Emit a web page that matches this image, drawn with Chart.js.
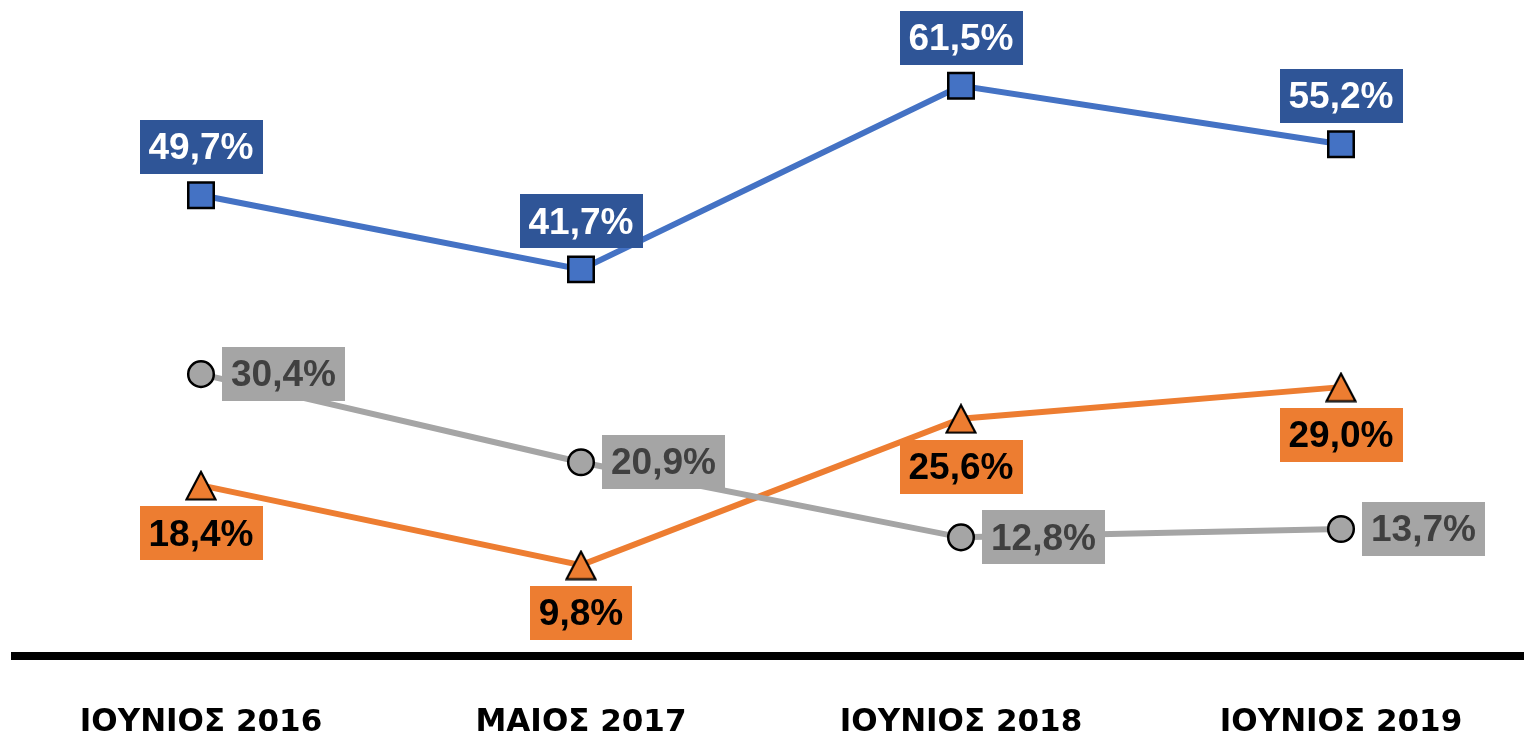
<!DOCTYPE html>
<html>
<head>
<meta charset="utf-8">
<script src="https://cdn.jsdelivr.net/npm/chart.js@4/dist/chart.umd.min.js"></script>
<style>
  html, body { margin: 0; padding: 0; background: #fff; }
  #wrap { width: 1524px; height: 743px; position: relative; }
</style>
</head>
<body>
<div id="wrap"><canvas id="trend"></canvas></div>
<script>
  const categories = ['ΙΟΥΝΙΟΣ 2016', 'ΜΑΙΟΣ 2017', 'ΙΟΥΝΙΟΣ 2018', 'ΙΟΥΝΙΟΣ 2019']
  const blueValues = [49.7, 41.7, 61.5, 55.2]
  const grayValues = [30.4, 20.9, 12.8, 13.7]
  const orangeValues = [18.4, 9.8, 25.6, 29.0]

  const LABEL_FONT = 'bold 37px "Liberation Sans", Arial, sans-serif'

  // orange triangle marker, a bit taller than the built-in one
  function triangleMarker () {
    const c = document.createElement('canvas')
    c.width = 32
    c.height = 31
    const g = c.getContext('2d')
    g.beginPath()
    g.moveTo(16, 2)
    g.lineTo(30.5, 29.5)
    g.lineTo(1.5, 29.5)
    g.closePath()
    g.fillStyle = '#ED7D31'
    g.fill()
    g.lineWidth = 2.2
    g.strokeStyle = '#000'
    g.lineJoin = 'miter'
    g.stroke()
    return c
  }

  const fmt = v => v.toFixed(1).replace('.', ',') + '%'

  // thick black baseline across the whole width
  const baseline = {
    id: 'baseline',
    beforeDatasetsDraw (chart) {
      const ctx = chart.ctx
      const y0 = chart.scales.y.getPixelForValue(0)
      ctx.save()
      ctx.fillStyle = '#000'
      ctx.fillRect(11, y0 - 4, chart.width - 11, 8)
      ctx.restore()
    }
  }

  // boxed value labels next to every point
  const boxLabels = {
    id: 'boxLabels',
    afterDatasetsDraw (chart) {
      const ctx = chart.ctx
      ctx.save()
      ctx.font = LABEL_FONT
      ctx.textBaseline = 'middle'
      ctx.textAlign = 'center'
      chart.data.datasets.forEach((ds, i) => {
        const meta = chart.getDatasetMeta(i)
        meta.data.forEach((pt, j) => {
          const text = fmt(ds.data[j])
          const w = ctx.measureText(text).width + 18
          const h = 54
          let cx = pt.x
          let cy = pt.y
          if (ds.labelPos === 'top') cy = pt.y - 48
          else if (ds.labelPos === 'bottom') cy = pt.y + 48
          else if (ds.labelPos === 'right') cx = pt.x + 21 + w / 2
          ctx.fillStyle = ds.labelBg
          ctx.fillRect(Math.round(cx - w / 2), Math.round(cy - h / 2), Math.round(w), h)
          ctx.fillStyle = ds.labelColor
          ctx.fillText(text, cx, cy + 2)
        })
      })
      ctx.restore()
    }
  }

  new Chart(document.getElementById('trend'), {
    type: 'line',
    data: {
      labels: categories,
      datasets: [
        {
          label: 'Σειρά 1',
          data: blueValues,
          borderColor: '#4472C4',
          borderWidth: 6,
          pointStyle: 'rect',
          pointRadius: 18,
          pointBackgroundColor: '#4472C4',
          pointBorderColor: '#000',
          pointBorderWidth: 2.5,
          labelPos: 'top',
          labelBg: '#2F5597',
          labelColor: '#fff'
        },
        {
          label: 'Σειρά 2',
          data: grayValues,
          borderColor: '#A5A5A5',
          borderWidth: 6,
          pointStyle: 'circle',
          pointRadius: 12.8,
          pointBackgroundColor: '#A5A5A5',
          pointBorderColor: '#000',
          pointBorderWidth: 2.5,
          labelPos: 'right',
          labelBg: '#A5A5A5',
          labelColor: '#404040'
        },
        {
          label: 'Σειρά 3',
          data: orangeValues,
          borderColor: '#ED7D31',
          borderWidth: 6,
          pointStyle: triangleMarker(),
          pointRadius: 16,
          labelPos: 'bottom',
          labelBg: '#ED7D31',
          labelColor: '#000'
        }
      ]
    },
    options: {
      responsive: true,
      maintainAspectRatio: false,
      animation: false,
      layout: {
        autoPadding: false,
        padding: { left: 201, right: 183, top: 7, bottom: 0 }
      },
      plugins: {
        legend: { display: false },
        tooltip: { enabled: false },
        title: { display: false }
      },
      scales: {
        x: {
          offset: false,
          grid: { display: false, drawTicks: false },
          border: { display: false },
          afterFit (axis) { axis.height = 87 },
          ticks: {
            color: '#000',
            padding: 48,
            maxRotation: 0,
            autoSkip: false,
            font: { family: '"DejaVu Sans", sans-serif', weight: 'bold', size: 31 }
          }
        },
        y: {
          display: false,
          min: 0,
          max: 70
        }
      }
    },
    plugins: [baseline, boxLabels]
  })
</script>
</body>
</html>
